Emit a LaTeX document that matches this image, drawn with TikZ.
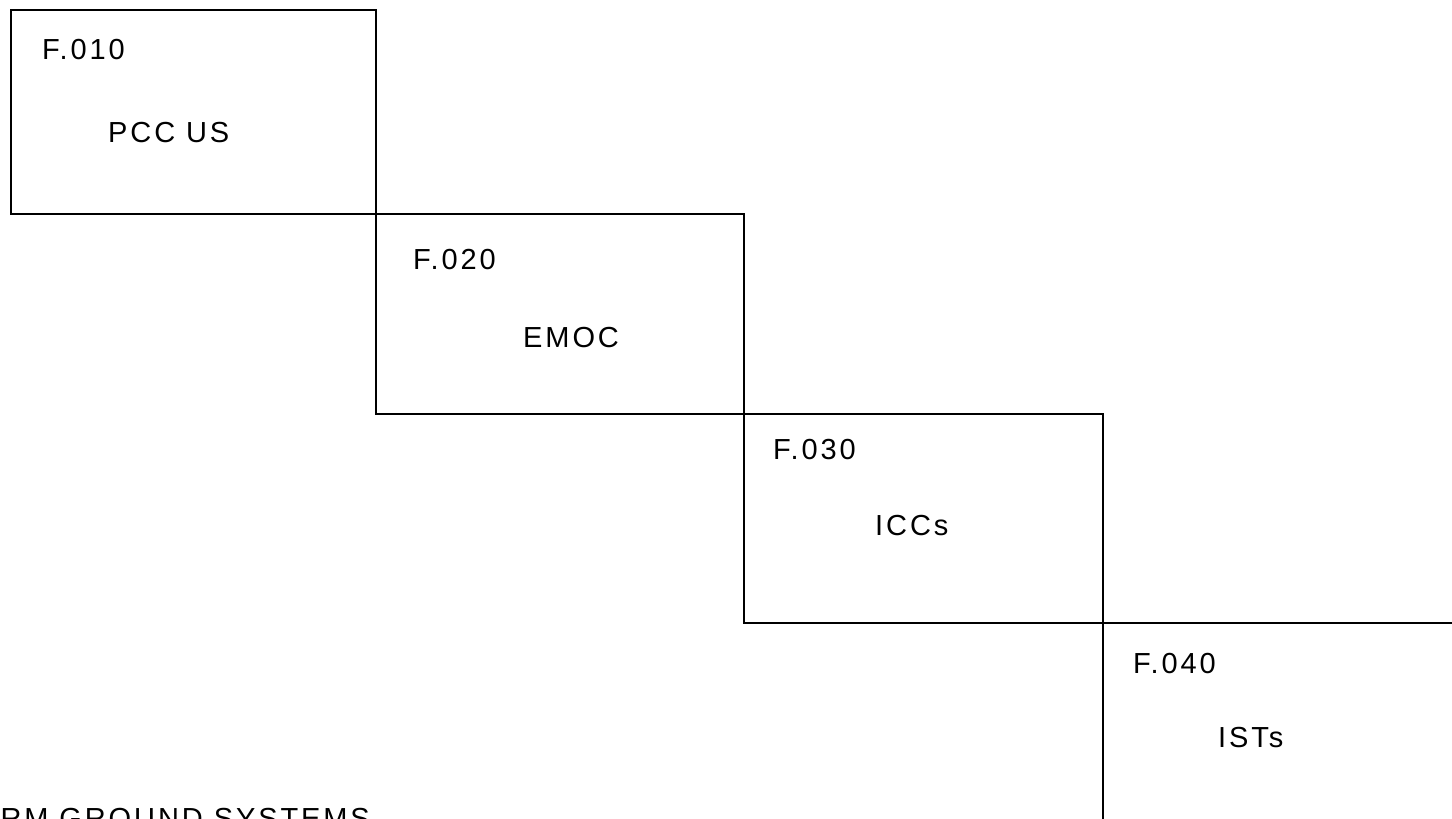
\documentclass[tikz,border=0pt]{standalone}
\usepackage{fontspec}
\setmainfont[LetterSpace=10]{Liberation Sans}
\tikzset{
  fbox/.style={draw, line width=2.2pt, anchor=north west, inner sep=0pt},
  fcode/.style={anchor=base west, inner sep=0pt, font=\fontsize{29}{34}\selectfont},
  ftitle/.style={anchor=base west, inner sep=0pt, font=\fontsize{29}{34}\selectfont}
}
\begin{document}
\begin{tikzpicture}[x=1pt,y=-1pt]
    \clip (0,0) rectangle (1452,819);
    \fill[white] (0,0) rectangle (1452,819);
    \foreach \n/\xa/\ya/\w/\h/\tx/\ty/\lx/\ly/\txt in {
      010/10/9/365/204/42/59/108/142/PCC US,
      020/375/213/368/200/413/269/523/347/EMOC,
      030/743/413/359/209/773/459/875/535/ICCs,
      040/1102/622/400/230/1133/673/1218/747/ISTs} {
      \node[fbox, minimum width=\w pt, minimum height=\h pt] (box\n) at (\xa,\ya) {};
      \node[fcode] (code\n) at (\tx,\ty) {F.\n};
      \node[ftitle] (name\n) at (\lx,\ly) {\txt};
    }
    \node[ftitle, anchor=base east] (sys) at (370,828) {RM GROUND SYSTEMS};
  \end{tikzpicture}
\end{document}
